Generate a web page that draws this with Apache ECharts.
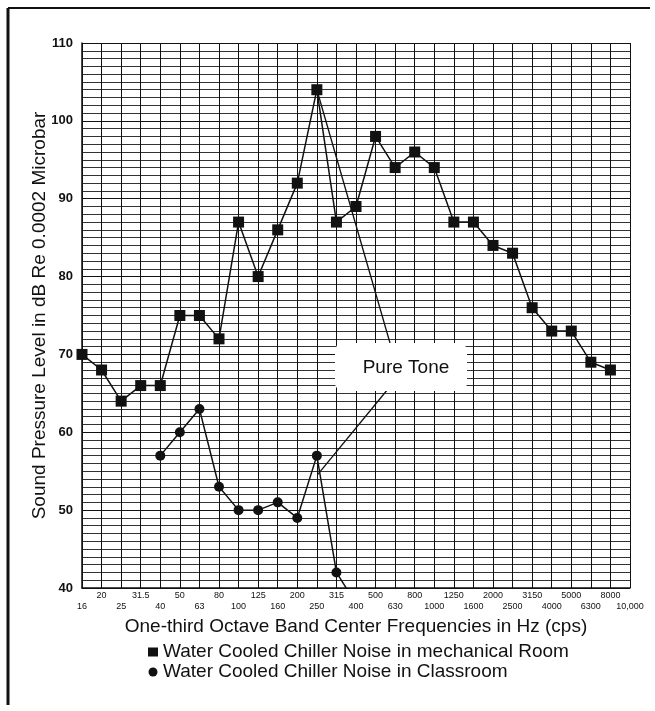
<!DOCTYPE html>
<html>
<head>
<meta charset="utf-8">
<script src="https://cdn.jsdelivr.net/npm/echarts@6/dist/echarts.min.js"></script>
<style>
  html, body { margin: 0; padding: 0; background: #fff; }
  #chart { width: 655px; height: 711px; }
</style>
</head>
<body>
<div id="chart"></div>
<script>
// one-third octave band centres (Hz)
var bands = ['16', '20', '25', '31.5', '40', '50', '63', '80', '100', '125', '160', '200', '250',
    '315', '400', '500', '630', '800', '1000', '1250', '1600', '2000', '2500', '3150', '4000',
    '5000', '6300', '8000', '10,000'];
// mechanical room levels, dB
var mechRoom = [70, 68, 64, 66, 66, 75, 75, 72, 87, 80, 86, 92, 104, 87, 89, 98, 94, 96, 94,
    87, 87, 84, 83, 76, 73, 73, 69, 68, null];
// classroom levels, dB (the 400 Hz point runs off the bottom of the chart)
var classroom = [null, null, null, null, 57, 60, 63, 53, 50, 50, 51, 49, 57, 42, 38, null, null,
    null, null, null, null, null, null, null, null, null, null, null, null];
var yTicks = [40, 50, 60, 70, 80, 90, 100, 110];

var font = 'Liberation Sans, Arial, Helvetica, sans-serif';
var chart = echarts.init(document.getElementById('chart'));

chart.setOption({
    backgroundColor: '#fff',
    animation: false,
    grid: {left: 82, right: 25, top: 43, bottom: 123},
    legend: {
        orient: 'vertical',
        left: 143,
        top: 637,
        itemWidth: 10,
        itemHeight: 9,
        itemGap: 0,
        textStyle: {fontFamily: font, fontSize: 19, color: '#111', lineHeight: 20},
        data: [
            {name: 'Water Cooled Chiller Noise in mechanical Room', icon: 'rect'},
            {name: 'Water Cooled Chiller Noise in Classroom', icon: 'circle'}
        ]
    },
    xAxis: {
        type: 'category',
        data: bands,
        boundaryGap: false,
        name: 'One-third Octave Band Center Frequencies in Hz (cps)',
        nameLocation: 'middle',
        nameGap: 25,
        nameTextStyle: {fontFamily: font, fontSize: 19, color: '#111'},
        axisLine: {lineStyle: {color: '#111', width: 1.5}},
        axisTick: {show: false},
        axisLabel: {
            interval: 0,
            margin: 2,
            fontFamily: font,
            fontSize: 9,
            lineHeight: 11,
            color: '#111',
            formatter: function(v, i) {
                return i % 2 ? v : '\n' + v;
            }
        },
        splitLine: {show: true, interval: 0, lineStyle: {color: '#111', width: 1}}
    },
    yAxis: {
        type: 'value',
        min: yTicks[0],
        max: yTicks[yTicks.length - 1],
        interval: 10,
        name: 'Sound Pressure Level in dB Re 0.0002 Microbar',
        nameLocation: 'middle',
        nameGap: 33,
        nameMoveOverlap: false,
        nameTextStyle: {fontFamily: font, fontSize: 19, color: '#111'},
        axisLine: {show: true, lineStyle: {color: '#111', width: 1.5}},
        axisTick: {show: false},
        axisLabel: {margin: 9, fontFamily: font, fontSize: 13, fontWeight: 'bold', color: '#111'},
        splitLine: {lineStyle: {color: '#111', width: 1}},
        minorTick: {show: false, splitNumber: 10},
        minorSplitLine: {show: true, lineStyle: {color: '#333', width: 1}}
    },
    series: [
        {
            name: 'Water Cooled Chiller Noise in mechanical Room',
            type: 'line',
            data: mechRoom,
            symbol: 'rect',
            symbolSize: 11,
            itemStyle: {color: '#111'},
            lineStyle: {color: '#111', width: 1.5},
            z: 3
        },
        {
            name: 'Water Cooled Chiller Noise in Classroom',
            type: 'line',
            data: classroom,
            symbol: 'circle',
            symbolSize: 10,
            clip: true,
            itemStyle: {color: '#111'},
            lineStyle: {color: '#111', width: 1.5},
            z: 3
        }
    ]
});

// "Pure Tone" callout, pointers anchored on the 250 Hz values
var peak = chart.convertToPixel({gridIndex: 0}, [12, mechRoom[12]]);
var low = chart.convertToPixel({gridIndex: 0}, [12, 54.6]);
chart.setOption({
    graphic: [
        {type: 'line', shape: {x1: 8, y1: 8, x2: 650, y2: 8}, style: {stroke: '#111', lineWidth: 2}},
        {type: 'line', shape: {x1: 8, y1: 8, x2: 8, y2: 705}, style: {stroke: '#111', lineWidth: 3}},
        {type: 'line', z: 10, shape: {x1: peak[0], y1: peak[1], x2: 390, y2: 343}, style: {stroke: '#111', lineWidth: 1.3}},
        {type: 'line', z: 10, shape: {x1: 388, y1: 389, x2: low[0] + 1, y2: low[1]}, style: {stroke: '#111', lineWidth: 1.3}},
        {type: 'rect', z: 11, shape: {x: 335, y: 343, width: 132, height: 48, r: 8}, style: {fill: '#fff'}},
        {
            type: 'text', z: 12, x: 406, y: 368,
            style: {text: 'Pure Tone', fontFamily: font, fontSize: 19, fill: '#111', align: 'center', verticalAlign: 'middle'}
        }
    ]
});
</script>
</body>
</html>
